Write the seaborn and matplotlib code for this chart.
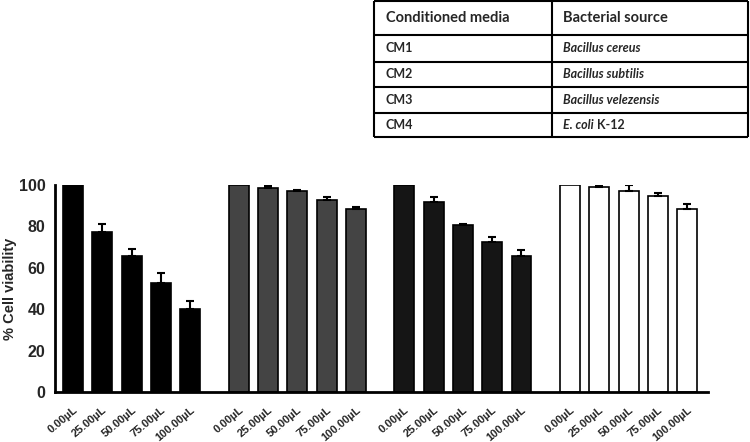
import numpy as np
import pandas as pd
import matplotlib
matplotlib.use('Agg')
import matplotlib.pyplot as plt
import seaborn as sns

sns.set_style('white')
plt.rcParams['font.family'] = ['Liberation Sans', 'DejaVu Sans']

# Data
doses = ['0.00µL', '25.00µL', '50.00µL', '75.00µL', '100.00µL']
groups = ['CM1', 'CM2', 'CM3', 'CM4']
cm1 = [100, 77.1, 65.7, 52.8, 40.1]
cm2 = [100, 98.3, 96.9, 92.6, 88.3]
cm3 = [100, 91.6, 80.5, 72.6, 65.7]
cm4 = [100, 98.9, 96.8, 94.4, 88.1]
cm1_err = [0, 3.8, 3.2, 4.5, 3.7]
cm2_err = [0, 1.2, 0.7, 1.6, 1.1]
cm3_err = [0, 2.3, 0.5, 2.3, 2.6]
cm4_err = [0, 1.0, 2.9, 1.4, 2.7]

table_head = ['Conditioned media', 'Bacterial source']
table_cm = ['CM1', 'CM2', 'CM3', 'CM4']
table_src = ['Bacillus cereus', 'Bacillus subtilis', 'Bacillus velezensis', 'E. coli']

colors = ['#000000', '#444444', '#151515', '#ffffff']
group_step = 5.66

rows = []
for g, (vals, errs) in enumerate(zip([cm1, cm2, cm3, cm4], [cm1_err, cm2_err, cm3_err, cm4_err])):
    for i, (v, e) in enumerate(zip(vals, errs)):
        rows.append({'pos': i + g * group_step, 'value': v, 'err': e,
                     'group': groups[g], 'dose': doses[i]})
df = pd.DataFrame(rows)

fig = plt.figure(figsize=(7.5, 4.42), dpi=100)
ax = fig.add_axes([0.0733, 0.113, 0.871, 0.469])

sns.barplot(data=df, x='pos', y='value', hue='group', palette=colors,
            native_scale=True, dodge=False, width=0.68, errorbar=None,
            edgecolor='black', linewidth=1.2, legend=False, ax=ax)

# one-sided error bars (SD)
for g in groups:
    sub = df[(df['group'] == g) & (df['err'] > 0)]
    ax.errorbar(sub['pos'], sub['value'], yerr=[np.zeros(len(sub)), sub['err']],
                fmt='none', ecolor='black', elinewidth=1.5, capsize=3, capthick=1.5)

ax.set_xlim(-0.62, 21.7)
ax.set_ylim(0, 100)
ax.set_yticks([0, 20, 40, 60, 80, 100])
ax.set_yticklabels(['0', '20', '40', '60', '80', '100'], fontsize=11.5, fontweight='bold')
ax.set_xticks(df['pos'])
ax.set_xticklabels(df['dose'], rotation=40, ha='right', rotation_mode='anchor',
                   fontsize=8, fontweight='bold')
ax.set_xlabel('')
ax.set_ylabel('% Cell viability', fontsize=10.5, fontweight='bold')
ax.yaxis.set_label_coords(-0.058, 0.5)
sns.despine(ax=ax)
for s in ['left', 'bottom']:
    ax.spines[s].set_linewidth(2)
    ax.spines[s].set_color('black')
ax.tick_params(axis='both', direction='out', length=5, width=2, color='black', pad=2)
ax.tick_params(axis='x', pad=4)

# table in the top right corner
tx = fig.add_axes([0, 0, 1, 1])
tx.set_xlim(0, 750)
tx.set_ylim(442, 0)
tx.axis('off')
left, mid, right = 374, 552, 748
lines_y = [1, 35, 61.7, 87.3, 113.3, 136.7]
for y in lines_y:
    tx.plot([left, right], [y, y], color='black', lw=1.5, solid_capstyle='butt')
for x in [left, mid, right]:
    tx.plot([x, x], [lines_y[0], lines_y[-1]], color='black', lw=1.5, solid_capstyle='butt')
tx.text(left + 12, (lines_y[0] + lines_y[1]) / 2, table_head[0], fontsize=10.5,
        fontweight='bold', family='Lato', va='center')
tx.text(mid + 11, (lines_y[0] + lines_y[1]) / 2, table_head[1], fontsize=10.5,
        fontweight='bold', family='Lato', va='center')
for k in range(4):
    yc = (lines_y[k + 1] + lines_y[k + 2]) / 2
    tx.text(left + 12, yc, table_cm[k], fontsize=9, fontweight='bold',
            family='Lato', va='center')
    t = tx.text(mid + 11, yc, table_src[k], fontsize=9, fontweight='bold',
                style='italic', family='Lato', va='center')
    if k == 3:
        # strain name after the italic species
        tx.annotate(' K-12', xy=(1, 0.5), xycoords=t, va='center', ha='left',
                    fontsize=9, fontweight='bold', family='Lato')

fig.savefig('out.png', dpi=100)
